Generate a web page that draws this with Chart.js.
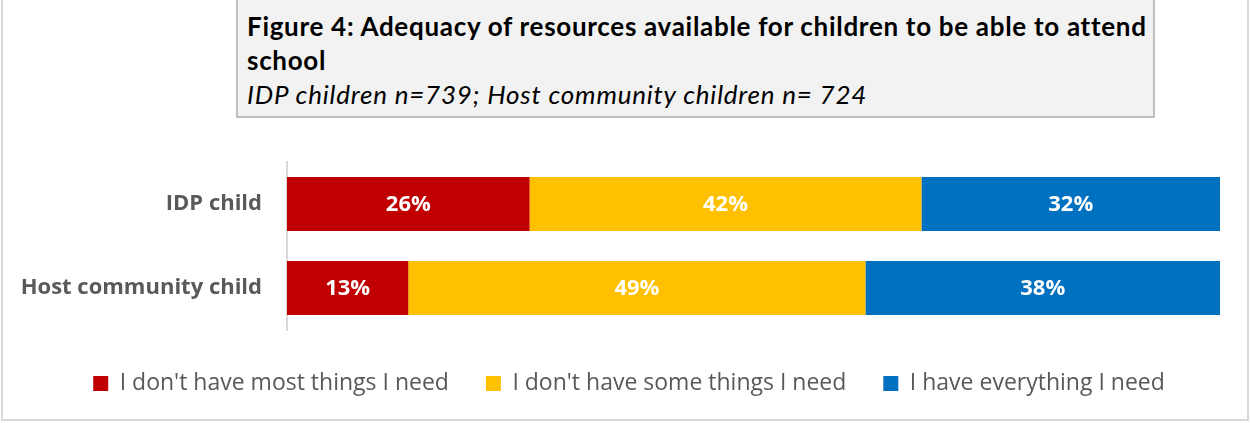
<!DOCTYPE html>
<html lang="en">
<head>
    <meta charset="UTF-8">
    <title>Adequacy of resources for school attendance</title>
    <script src="https://cdn.jsdelivr.net/npm/chart.js"></script>
    <style>
        html, body {
            margin: 0;
            padding: 0;
            background: #ffffff;
        }
        .frame {
            position: relative;
            width: 1250px;
            height: 423px;
            background: #ffffff;
            overflow: hidden;
        }
        .frame canvas {
            position: absolute;
            left: 0;
            top: 0;
        }
        .edge {
            position: absolute;
            left: 1px;
            top: -2px;
            width: 1248px;
            height: 423px;
            box-sizing: border-box;
            border: 2px solid #d9d9d9;
            pointer-events: none;
            z-index: 3;
        }
        .title-box {
            position: absolute;
            left: 236px;
            top: 0;
            width: 919px;
            height: 118px;
            box-sizing: border-box;
            background: #f2f2f2;
            border: 2px solid #bfbfbf;
            border-top: none;
            padding: 9px 0 0 9px;
            font-family: Lato, 'Open Sans', sans-serif;
            color: #000000;
            z-index: 2;
        }
        .title-box .main {
            font-weight: bold;
            font-size: 26px;
            letter-spacing: 0.7px;
            line-height: 34px;
        }
        .title-box .sub {
            font-style: italic;
            font-size: 26px;
            letter-spacing: 0.8px;
            line-height: 34px;
        }
    </style>
</head>
<body>
    <div class="frame">
        <div class="title-box">
            <div class="main">Figure 4: Adequacy of resources available for children to be able to attend<br>school</div>
            <div class="sub">IDP children n=739; Host community children n= 724</div>
        </div>
        <canvas id="chart" width="1250" height="423"></canvas>
        <div class="edge"></div>
    </div>

    <script>
        // Groups and answer shares (%)
        const groups = ['IDP child', 'Host community child'];
        const answers = ["I don't have most things I need", "I don't have some things I need", 'I have everything I need'];
        const mostMissing = [26, 13];
        const someMissing = [42, 49];
        const haveAll = [32, 38];
        const answerColors = ['#c00000', '#ffc000', '#0070c0'];

        // white % labels centred on each segment
        const segmentLabels = {
            id: 'segmentLabels',
            afterDatasetsDraw(chart) {
                const ctx = chart.ctx;
                ctx.save();
                ctx.fillStyle = '#ffffff';
                ctx.font = 'bold 22px "Open Sans", sans-serif';
                ctx.textAlign = 'center';
                ctx.textBaseline = 'middle';
                chart.data.datasets.forEach((ds, i) => {
                    chart.getDatasetMeta(i).data.forEach((bar, j) => {
                        const p = bar.getCenterPoint();
                        ctx.fillText(ds.data[j] + '%', p.x, p.y + 1);
                    });
                });
                ctx.restore();
            }
        };

        // centre the legend under the whole figure rather than the padded area
        const legendShift = {
            id: 'legendShift',
            afterLayout(chart) {
                chart.legend.left += 19;
                chart.legend.right += 19;
            }
        };

        const ctx = document.getElementById('chart').getContext('2d');
        new Chart(ctx, {
            type: 'bar',
            data: {
                labels: groups,
                datasets: [
                    { label: answers[0], data: mostMissing, backgroundColor: answerColors[0] },
                    { label: answers[1], data: someMissing, backgroundColor: answerColors[1] },
                    { label: answers[2], data: haveAll, backgroundColor: answerColors[2] }
                ]
            },
            options: {
                indexAxis: 'y',
                responsive: false,
                animation: false,
                layout: {
                    padding: { top: 162, right: 30, bottom: 18, left: 0 }
                },
                datasets: {
                    bar: { barPercentage: 0.645, categoryPercentage: 1.0 }
                },
                scales: {
                    x: {
                        stacked: true,
                        min: 0,
                        max: 100,
                        grid: { display: false },
                        border: { display: false },
                        ticks: { display: false },
                        // keeps a small gap above the legend
                        afterFit(scale) { scale.height = 5; }
                    },
                    y: {
                        stacked: true,
                        grid: { display: false },
                        border: { display: true, color: '#d9d9d9', width: 2 },
                        afterFit(scale) { scale.width = 287; },
                        ticks: {
                            color: '#595959',
                            padding: 17,
                            font: { family: '"Open Sans", sans-serif', size: 22, weight: 'bold' }
                        }
                    }
                },
                plugins: {
                    tooltip: { enabled: false },
                    legend: {
                        position: 'bottom',
                        labels: {
                            boxWidth: 15,
                            boxHeight: 15,
                            padding: 37,
                            color: '#595959',
                            font: { family: '"Open Sans", sans-serif', size: 23 }
                        }
                    }
                }
            },
            plugins: [segmentLabels, legendShift]
        });
    </script>
</body>
</html>
